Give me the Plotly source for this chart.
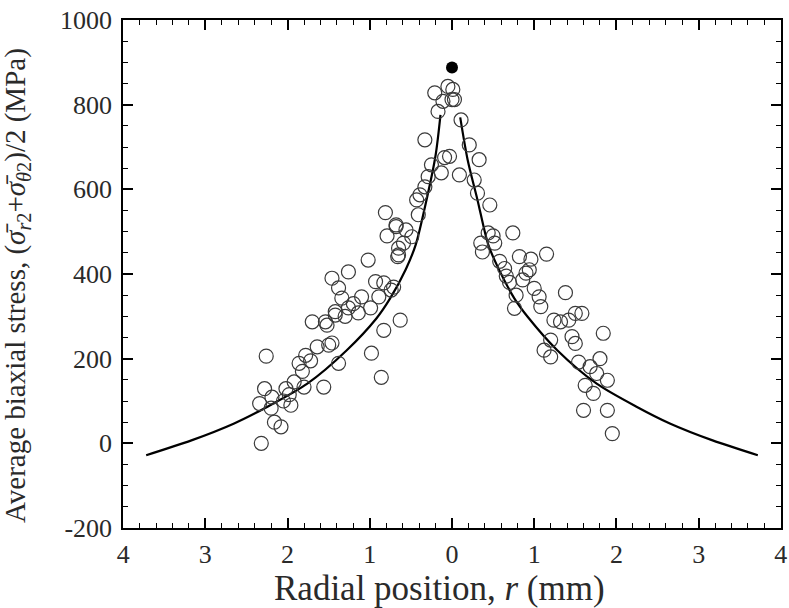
import plotly.graph_objects as go

# Measured points (open circles): radial position r (mm, negative = left side) and stress (MPa)
meas_r = [
    -2.32, -2.26, -2.28, -2.34, -2.19, -2.16, -2.08, -2.20, -2.02, -2.05,
    -1.96, -1.98, -1.92, -1.86, -1.78, -1.82, -1.72, -1.64, -1.56, -1.50,
    -1.80, -1.70, -1.52, -1.42, -1.38, -1.54, -1.46, -1.42, -1.46, -1.38,
    -1.34, -1.26, -1.26, -1.14, -1.10, -1.20, -1.30, -0.99, -1.02, -0.93,
    -0.89, -0.83, -0.74, -0.71, -0.83, -0.98, -0.86, -0.63, -0.81, -0.68,
    -0.79, -0.65, -0.66, -0.68, -0.56, -0.49, -0.59, -0.65, -0.43, -0.41,
    -0.39, -0.33, -0.29, -0.13, -0.25, -0.09, -0.33, -0.17, -0.21, -0.11,
    -0.05, 0.00, 0.01, 0.03, -0.03,
    0.11, 0.21, 0.33, 0.09, 0.27, 0.31, 0.46, 0.44, 0.74, 0.50,
    0.35, 0.52, 0.37, 0.82, 0.96, 1.15, 0.90, 0.86, 0.64, 1.00,
    1.06, 1.08, 0.78, 0.76, 0.70, 1.38, 1.50, 1.58, 1.24, 1.32,
    1.42, 1.46, 1.50, 1.20, 1.12, 1.20, 1.84, 1.54, 1.80, 1.68,
    1.76, 1.89, 1.62, 1.72, 1.60, 1.89, 1.95, 0.66, 0.58, 0.94,
]
meas_stress = [
    0, 206, 129, 94, 109, 50, 39, 83, 129, 100,
    90, 115, 145, 189, 208, 170, 195, 228, 133, 232,
    133, 287, 279, 303, 189, 287, 237, 311, 390, 367,
    343, 405, 320, 308, 346, 330, 300, 320, 433, 382,
    346, 379, 362, 369, 267, 213, 156, 291, 545, 512,
    490, 461, 441, 516, 504, 488, 473, 445, 575, 540,
    587, 606, 630, 639, 658, 675, 717, 784, 828, 808,
    843, 812, 836, 812, 678,
    764, 705, 670, 634, 622, 591, 563, 497, 497, 490,
    473, 473, 452, 441, 435, 447, 402, 386, 413, 366,
    346, 323, 350, 319, 380, 356, 307, 307, 291, 287,
    291, 252, 236, 244, 220, 204, 260, 192, 200, 181,
    165, 149, 137, 118, 78, 78, 23, 395, 430, 410,
]

# Peak value (filled circle)
peak_r = [0.0]
peak_stress = [888]

# Fitted curve, left and right branches
curve_left_r = [-3.72, -3.17, -2.65, -2.25, -1.76, -1.28, -0.92, -0.76, -0.56, -0.44, -0.31, -0.20, -0.14]
curve_left_stress = [-28, 7, 47, 86, 141, 220, 295, 340, 412, 470, 575, 680, 776]
curve_right_r = [0.10, 0.19, 0.31, 0.44, 0.56, 0.76, 0.92, 1.28, 1.76, 2.25, 2.65, 3.17, 3.72]
curve_right_stress = [770, 670, 575, 470, 415, 342, 299, 220, 141, 86, 47, 7, -28]

x_tickvals = [-4, -3, -2, -1, 0, 1, 2, 3, 4]
x_ticktext = ["4", "3", "2", "1", "0", "1", "2", "3", "4"]
y_tickvals = [-200, 0, 200, 400, 600, 800, 1000]
y_ticktext = ["-200", "0", "200", "400", "600", "800", "1000"]

x_title = "Radial position, <i>r</i> (mm)"
y_title = ("Average biaxial stress, (<i>\u03c3\u0304</i><sub><i>r</i>2</sub>+"
           "<i>\u03c3\u0304</i><sub><i>\u03b8</i>2</sub>)/2 (MPa)")

FONT = "Liberation Serif, Times New Roman, serif"
TXT = "#2a2a2a"
X_RANGE = [-4.002, 4.002]

fig = go.Figure()
for cr, cs in [(curve_left_r, curve_left_stress), (curve_right_r, curve_right_stress)]:
    fig.add_trace(go.Scatter(x=cr, y=cs, mode="lines",
                             line=dict(color="black", width=2.2, shape="spline", smoothing=0.8),
                             showlegend=False, hoverinfo="skip"))
fig.add_trace(go.Scatter(x=meas_r, y=meas_stress, mode="markers",
                         marker=dict(symbol="circle-open", size=14, color="#3a3a3a",
                                     line=dict(width=1.2, color="#3a3a3a")),
                         showlegend=False))
fig.add_trace(go.Scatter(x=peak_r, y=peak_stress, mode="markers",
                         marker=dict(symbol="circle", size=12, color="black"),
                         showlegend=False))
# invisible trace to activate mirrored top/right axes
fig.add_trace(go.Scatter(x=peak_r, y=peak_stress, xaxis="x2", yaxis="y2", mode="markers",
                         marker=dict(opacity=0), showlegend=False, hoverinfo="skip"))

tick_common = dict(ticks="inside", ticklen=10, tickwidth=1.5, tickcolor="black",
                   showgrid=False, zeroline=False, automargin=False)
line_common = dict(showline=True, linecolor="black", linewidth=1.5)
minor_x = dict(tick0=0, dtick=0.2, ticks="inside", ticklen=5, tickwidth=1.2, tickcolor="black")
minor_y = dict(dtick=50, ticks="inside", ticklen=5, tickwidth=1.2, tickcolor="black")

fig.update_layout(
    width=789, height=608,
    margin=dict(l=123, r=8, t=20, b=80),
    paper_bgcolor="white", plot_bgcolor="white",
    font=dict(family=FONT, color=TXT),
    xaxis=dict(range=X_RANGE, tickvals=x_tickvals, ticktext=x_ticktext, minor=minor_x,
               tickfont=dict(family=FONT, size=26, color=TXT), ticklabelstandoff=2,
               ticklabeloverflow="allow",
               **tick_common, **line_common),
    yaxis=dict(range=[-200, 1000], tickvals=y_tickvals, ticktext=y_ticktext, minor=minor_y,
               tickfont=dict(family=FONT, size=26, color=TXT), ticklabelstandoff=4,
               ticklabeloverflow="allow",
               **tick_common, **line_common),
    xaxis2=dict(range=X_RANGE, overlaying="x", side="top", tickvals=x_tickvals,
                showticklabels=False, minor=minor_x, **tick_common, **line_common),
    yaxis2=dict(range=[-200, 1000], overlaying="y", side="right", tickvals=y_tickvals,
                showticklabels=False, minor=minor_y, **tick_common, **line_common),
    annotations=[
        dict(text=x_title, xref="paper", yref="paper", x=0.5, y=0,
             xanchor="center", yanchor="middle", yshift=-60, xshift=-13, showarrow=False,
             font=dict(family=FONT, size=35, color=TXT)),
        dict(text=y_title, xref="paper", yref="paper", x=0, y=0.5, textangle=-90,
             xanchor="center", yanchor="middle", xshift=-106, yshift=-12, showarrow=False,
             font=dict(family=FONT, size=29, color=TXT)),
    ],
)

fig.write_html("out.html", config={"displayModeBar": False},
               post_script="document.body.style.margin='0';document.body.style.overflow='hidden';")
